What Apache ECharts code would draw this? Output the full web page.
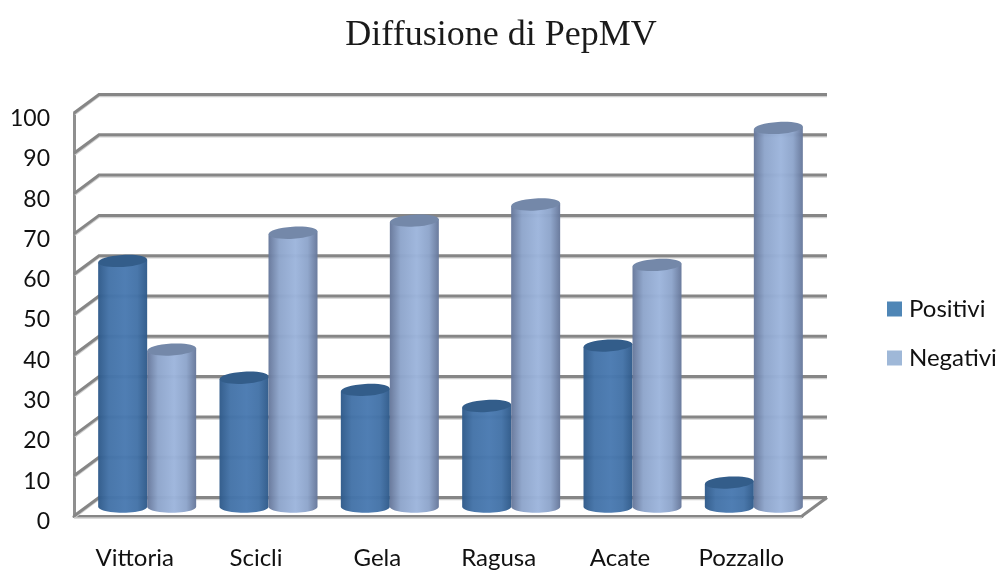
<!DOCTYPE html>
<html>
<head>
<meta charset="utf-8">
<script src="https://cdn.jsdelivr.net/npm/echarts@6/dist/echarts.min.js"></script>
<style>
    html, body { margin: 0; padding: 0; background: #fff; }
    #main { width: 999px; height: 570px; }
</style>
</head>
<body>
<div id="main"></div>
<script>
    var categories = ['Vittoria', 'Scicli', 'Gela', 'Ragusa', 'Acate', 'Pozzallo'];
    var positivi = [61, 32, 29, 25, 40, 6];
    var negativi = [39, 68, 71, 75, 60, 94];
    var yTicks = [0, 10, 20, 30, 40, 50, 60, 70, 80, 90, 100];

    // depth of the fake 3d box, in pixels
    var depthX = 25;
    var depthY = 18.5;
    var lineColor = '#868686';
    var shadeColor = '#cfcfcf';

    function wallLine(points, color, width) {
        return {
            type: 'polyline',
            shape: { points: points },
            style: { stroke: color, lineWidth: width, fill: null }
        };
    }

    function renderWall(params, api) {
        var box = params.coordSys;
        var y = api.coord([0, api.value(0)])[1];
        var left = box.x;
        var right = box.x + box.width;
        var backY = y - depthY;
        var kids = [
            wallLine([[left + 1, y + 1.5], [left + depthX, backY + 2], [right + depthX, backY + 2]], shadeColor, 1.5),
            wallLine([[left, y], [left + depthX, backY], [right + depthX, backY]], lineColor, 3)
        ];
        if (api.value(0) === 0) {
            kids.push(wallLine([[left, y + 2], [right, y + 2]], shadeColor, 1.5));
            kids.push(wallLine([[right, y], [right + depthX, backY]], lineColor, 3));
        }
        return { type: 'group', children: kids };
    }

    function cylinder(side, edge, near, mid, cap) {
        return function (params, api) {
            var center = api.coord([api.value(0), 0])[0] + depthX / 2;
            var halfDepth = depthY / 2;
            var topY = api.coord([api.value(0), api.value(1)])[1] - halfDepth;
            var baseY = api.coord([api.value(0), 0])[1] - halfDepth;
            var w = 49;
            var l = side < 0 ? center - w : center;
            var r = l + w;
            var cx = (l + r) / 2;
            var rx = w / 2;
            var pts = [[l, topY + 1.5], [r, topY - 1.5]];
            for (var a = 0; a <= 24; a++) {
                var t = Math.PI * a / 24;
                pts.push([cx + rx * Math.cos(t), baseY + 6 * Math.sin(t)]);
            }
            return {
                type: 'group',
                children: [
                    {
                        type: 'polygon',
                        shape: { points: pts },
                        style: {
                            opacity: 0.97,
                            fill: {
                                type: 'linear', x: 0, y: 0, x2: 1, y2: 0,
                                colorStops: [
                                    { offset: 0, color: edge },
                                    { offset: 0.22, color: near },
                                    { offset: 0.55, color: mid },
                                    { offset: 0.8, color: near },
                                    { offset: 1, color: edge }
                                ]
                            }
                        }
                    },
                    {
                        type: 'ellipse',
                        shape: { cx: cx, cy: topY, rx: rx, ry: 6 },
                        rotation: 0.06,
                        originX: cx,
                        originY: topY,
                        style: { fill: cap }
                    }
                ]
            };
        };
    }

    function pairs(values) {
        var out = [];
        for (var i = 0; i < values.length; i++) {
            out.push([i, values[i]]);
        }
        return out;
    }

    var mychart = echarts.init(document.getElementById('main'), null, { renderer: 'canvas' });
    var option = {
        animation: false,
        backgroundColor: '#fff',
        title: {
            text: 'Diffusione di PepMV',
            left: 496,
            top: 13,
            textAlign: 'center',
            textStyle: {
                fontFamily: 'Liberation Serif',
                fontWeight: 'normal',
                fontSize: 36,
                color: '#1a1a1a'
            }
        },
        legend: {
            orient: 'vertical',
            left: 882,
            top: 292,
            icon: 'rect',
            itemWidth: 15,
            itemHeight: 15,
            itemGap: 25,
            data: ['Positivi', 'Negativi'],
            textStyle: {
                fontFamily: 'Lato',
                fontSize: 24,
                color: '#111',
                padding: [0, 0, 0, 2]
            }
        },
        grid: { left: 74, top: 113, width: 728, height: 403 },
        xAxis: {
            type: 'category',
            data: categories,
            axisTick: { show: false },
            axisLine: { lineStyle: { color: lineColor, width: 3 } },
            axisLabel: {
                margin: 30,
                fontFamily: 'Lato',
                fontSize: 24,
                color: '#111'
            }
        },
        yAxis: {
            type: 'value',
            min: 0,
            max: 100,
            interval: 10,
            axisTick: { show: false },
            splitLine: { show: false },
            axisLine: { show: true, lineStyle: { color: '#8f8f8f', width: 3 } },
            axisLabel: {
                margin: 24,
                fontFamily: 'Lato',
                fontSize: 23,
                color: '#111',
                verticalAlign: 'top',
                lineHeight: 11
            }
        },
        series: [
            {
                type: 'custom',
                name: 'griglia',
                silent: true,
                z: 1,
                clip: false,
                encode: { y: 0 },
                renderItem: renderWall,
                data: yTicks
            },
            {
                type: 'custom',
                name: 'Positivi',
                z: 3,
                clip: false,
                itemStyle: { color: '#4f86b6' },
                encode: { x: 0, y: 1 },
                renderItem: cylinder(-1, '#2f5a8a', '#4473a8', '#4a7ab1', '#335d8a'),
                data: pairs(positivi)
            },
            {
                type: 'custom',
                name: 'Negativi',
                z: 4,
                clip: false,
                itemStyle: { color: '#9fb8d8' },
                encode: { x: 0, y: 1 },
                renderItem: cylinder(1, '#66779a', '#8ea5cb', '#9db5dc', '#7488a9'),
                data: pairs(negativi)
            }
        ]
    };
    mychart.setOption(option);
</script>
</body>
</html>
